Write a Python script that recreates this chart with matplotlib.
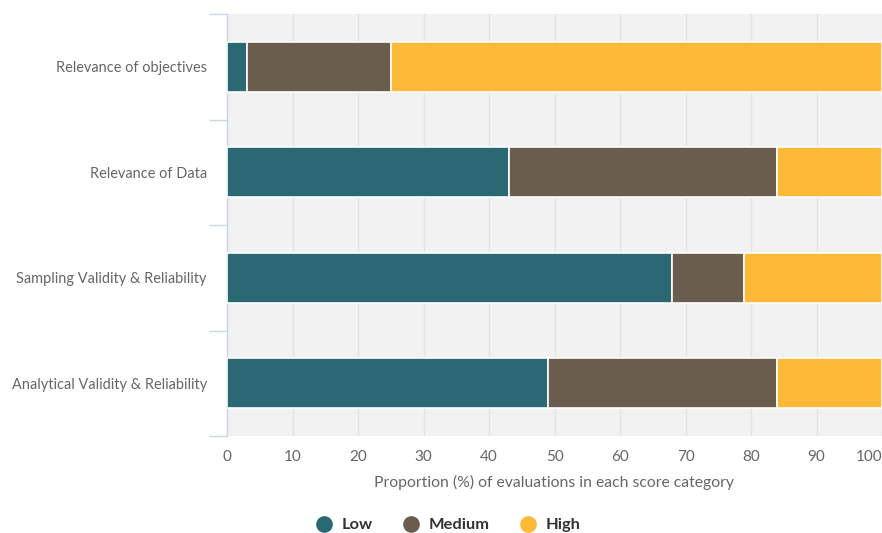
import matplotlib.pyplot as plt
import numpy as np
from matplotlib.lines import Line2D

plt.rcParams['font.family'] = ['Lato', 'DejaVu Sans']

categories = ['Relevance of objectives', 'Relevance of Data',
              'Sampling Validity & Reliability', 'Analytical Validity & Reliability']
low = [3, 43, 68, 49]
medium = [22, 41, 11, 35]
high = [75, 16, 21, 16]

series_names = ['Low', 'Medium', 'High']
colors = ['#2a6874', '#6b5d4d', '#ffb938']

fig = plt.figure(figsize=(8.82, 5.33), dpi=100)
ax = fig.add_axes([227 / 882, 1 - 436 / 533, 655 / 882, 422 / 533])
ax.set_facecolor('#f2f2f2')

y = np.arange(len(categories))
left = np.zeros(len(categories))
for vals, name, c in zip([low, medium, high], series_names, colors):
    ax.barh(y, vals, left=left, height=0.47, color=c, edgecolor='white',
            linewidth=1.2, label=name, zorder=3)
    left += np.array(vals)

ax.set_xlim(0, 100)
ax.set_ylim(len(categories) - 0.5, -0.5)
ax.set_xticks(range(0, 101, 10))
ax.set_yticks(y)
ax.set_yticklabels(categories)
ax.set_yticks(np.arange(-0.5, len(categories), 1), minor=True)
ax.tick_params(axis='y', which='major', length=0, pad=14.5, labelsize=10.45, labelcolor='#666666')
ax.tick_params(axis='y', which='minor', length=13, width=1, color='#ccd6eb')
ax.tick_params(axis='x', length=0, pad=10, labelsize=11, labelcolor='#666666')
ax.get_xticklabels()[-1].set_horizontalalignment('right')
ax.grid(axis='x', color='#e3e3e3', linewidth=1, zorder=0)
ax.set_axisbelow(True)

for s in ['top', 'right', 'bottom']:
    ax.spines[s].set_visible(False)
ax.spines['left'].set_color('#ccd6eb')
ax.spines['left'].set_linewidth(1)

ax.set_xlabel('Proportion (%) of evaluations in each score category',
              fontsize=11.3, color='#666666', labelpad=8)

handles = [Line2D([0], [0], marker='o', linestyle='', markersize=11,
                  markerfacecolor=c, markeredgecolor=c) for c in colors]
leg = fig.legend(handles, series_names, loc='center', bbox_to_anchor=(444 / 882, 1 - 525 / 533),
                 ncol=3, frameon=False, handlelength=2.0, handletextpad=0.1, columnspacing=1.3,
                 prop={'weight': 'bold', 'size': 11.8})
for t in leg.get_texts():
    t.set_color('#333333')

fig.savefig('out.png', dpi=100)
